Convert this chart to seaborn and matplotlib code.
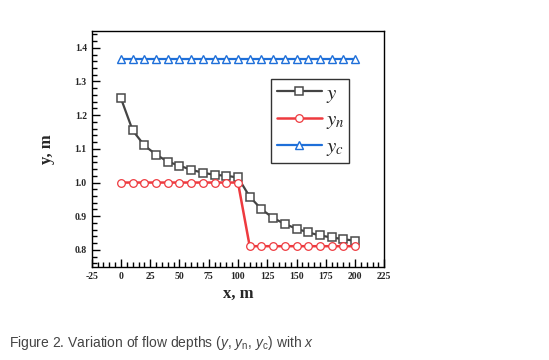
import matplotlib
matplotlib.use("Agg")
import matplotlib.pyplot as plt
from matplotlib.font_manager import FontProperties
from matplotlib.ticker import MultipleLocator
import pandas as pd
import seaborn as sns

# distance along channel, m
x = [0, 10, 20, 30, 40, 50, 60, 70, 80, 90, 100,
     110, 120, 130, 140, 150, 160, 170, 180, 190, 200]
y = [1.250, 1.155, 1.110, 1.083, 1.062, 1.050, 1.038, 1.029, 1.023, 1.020, 1.015,
     0.958, 0.921, 0.895, 0.877, 0.863, 0.852, 0.843, 0.837, 0.832, 0.827]
yn = [1.0] * 11 + [0.811] * 10
yc = [1.366] * 21

sns.set_style("white")
plt.rcParams["mathtext.fontset"] = "custom"
plt.rcParams["mathtext.rm"] = "Liberation Sans"
plt.rcParams["mathtext.it"] = "Liberation Sans:italic"

df = pd.DataFrame({"x": x, "y": y, "yn": yn, "yc": yc})

fig = plt.figure(figsize=(5.49, 3.6), dpi=100)
ax = fig.add_axes([0.167, 0.259, 0.533, 0.655])

sns.lineplot(data=df, x="x", y="y", ax=ax, color="#444444", lw=1.6,
             marker="s", markersize=5.5, markerfacecolor="white",
             markeredgecolor="#4a4a4a", markeredgewidth=1.1, label="$y$")
sns.lineplot(data=df, x="x", y="yn", ax=ax, color="#ee3a3f", lw=1.8,
             marker="o", markersize=5.5, markerfacecolor="white",
             markeredgecolor="#ee3a3f", markeredgewidth=0.9, label="$y_n$")
sns.lineplot(data=df, x="x", y="yc", ax=ax, color="#1e6fd9", lw=1.6,
             marker="^", markersize=6, markerfacecolor="white",
             markeredgecolor="#1e6fd9", markeredgewidth=1.0, label="$y_c$")

ax.set_xlim(-25, 225)
ax.set_ylim(0.75, 1.45)
ax.xaxis.set_minor_locator(MultipleLocator(5))
ax.yaxis.set_minor_locator(MultipleLocator(0.02))
ax.tick_params(which="both", direction="in", top=False, right=False,
               left=True, bottom=True, color="black")
ax.tick_params(which="major", length=6, width=1)
ax.tick_params(which="minor", length=3.5, width=1)
ax.set_yticks([0.8, 0.9, 1.0, 1.1, 1.2, 1.3, 1.4])
ax.set_yticklabels(["0.8", "0.9", "1.0", "1.1", "1.2", "1.3", "1.4"],
                   fontfamily="Liberation Serif", fontweight="bold", fontsize=7)
ax.set_xticks(range(-25, 226, 25))
ax.set_xticklabels([str(v) for v in range(-25, 226, 25)],
                   fontfamily="Liberation Serif", fontweight="bold", fontsize=7)

for s in ax.spines.values():
    s.set_color("black")
    s.set_linewidth(1.0)

ax.set_xlabel("x, m", fontfamily="Liberation Serif", fontweight="bold",
              fontsize=12, labelpad=4)
ax.set_ylabel("y, m", fontfamily="Liberation Serif", fontweight="bold",
              fontsize=12, labelpad=14)

leg_font = FontProperties(family="Liberation Serif", size=15,
                          math_fontfamily="stix")
leg = ax.legend(loc="upper left", bbox_to_anchor=(0.614, 0.797), prop=leg_font,
                frameon=True, fancybox=False, edgecolor="black",
                handlelength=2.2, handletextpad=0.15, borderpad=0.25,
                labelspacing=0.3, borderaxespad=0)
leg.get_frame().set_linewidth(1.0)
for t in leg.get_texts():
    t.set_color("#222222")

fig.text(0.016, 0.035,
         "Figure 2. Variation of flow depths ($\\mathit{y}$, $\\mathit{y}_\\mathrm{n}$, "
         "$\\mathit{y}_\\mathrm{c}$) with $\\mathit{x}$",
         fontfamily="Liberation Sans", fontsize=10, color="#444444")

fig.savefig("out.png", dpi=100, facecolor="white")
